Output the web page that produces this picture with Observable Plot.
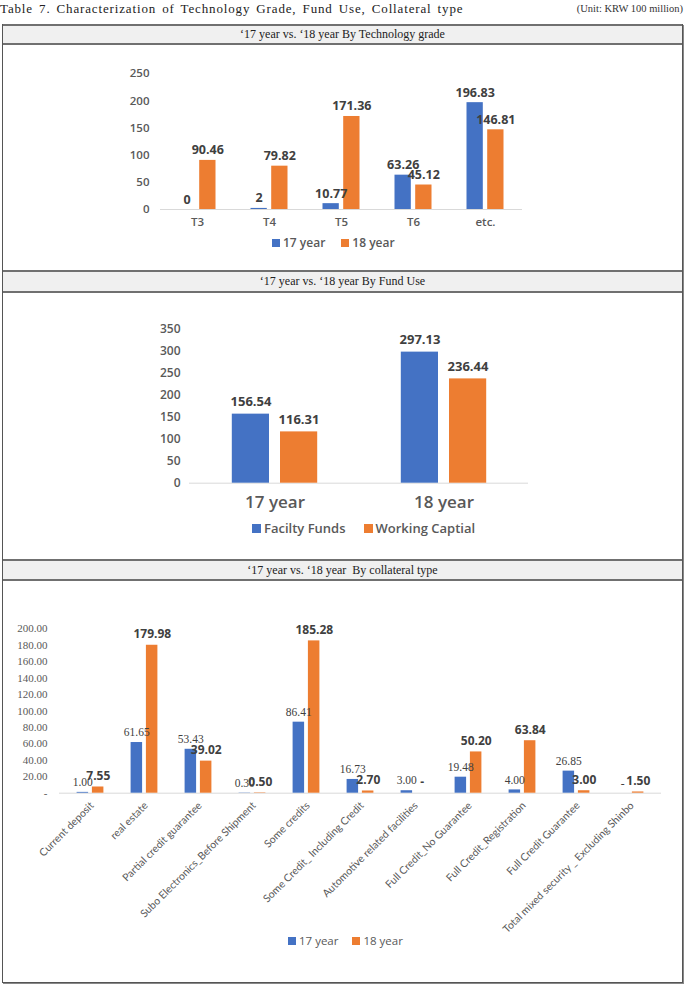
<!DOCTYPE html>
<html>
<head>
<meta charset="utf-8">
<script src="https://cdn.jsdelivr.net/npm/d3@7"></script>
<script src="https://cdn.jsdelivr.net/npm/@observablehq/plot@0.6"></script>
<style>
  html, body { margin: 0; padding: 0; background: #fff; }
  #page { position: relative; width: 685px; height: 985px; overflow: hidden; }
  .abs { position: absolute; }
  .title { left: 0; top: 1px; font-family: "Liberation Serif", serif; font-size: 13px; letter-spacing: 0.85px; word-spacing: 2px; color: #222; white-space: nowrap; }
  .unit { right: 2px; top: 3px; font-family: "Liberation Serif", serif; font-size: 10.5px; color: #333; white-space: nowrap; }
  .box { left: 2px; top: 24px; width: 679px; height: 957px; border: 1.5px solid #555; box-shadow: 1px 1px 0 #888; }
  .hdr { left: 3px; width: 679px; background: #f0f0f0; border-top: 2px solid #707070; border-bottom: 2px solid #707070;
         font-family: "Liberation Serif", serif; font-size: 12px; color: #222; text-align: center; box-sizing: border-box; }
  .legend { display: flex; align-items: center; font-family: "Open Sans", sans-serif; color: #595959; white-space: nowrap; }
  .sw { display: inline-block; width: 8px; height: 8px; margin-right: 3px; }
  svg { position: absolute; left: 0; }
</style>
</head>
<body>
<div id="page">
  <div class="abs title">Table 7. Characterization of Technology Grade, Fund Use, Collateral type</div>
  <div class="abs unit">(Unit: KRW 100 million)</div>
  <div class="abs box"></div>
  <div class="abs hdr" style="top:24px;height:21px;line-height:17px;">‘17 year vs. ‘18 year By Technology grade</div>
  <div class="abs hdr" style="top:270px;height:23px;line-height:19px;">‘17 year vs. ‘18 year By Fund Use</div>
  <div class="abs hdr" style="top:559px;height:22px;line-height:18px;">‘17 year vs. ‘18 year &nbsp;By collateral type</div>

  <div class="abs legend" style="left:272px;top:234px;font-size:12px;font-weight:600;">
    <span class="sw" style="background:#4472C4"></span><span>17 year</span>
    <span class="sw" style="background:#ED7D31;margin-left:16px"></span><span>18 year</span>
  </div>
  <div class="abs legend" style="left:252px;top:519px;font-size:13px;font-weight:600;">
    <span class="sw" style="background:#4472C4;width:9px;height:9px"></span><span>Facilty Funds</span>
    <span class="sw" style="background:#ED7D31;width:9px;height:9px;margin-left:18px"></span><span>Working Captial</span>
  </div>
  <div class="abs legend" style="left:288px;top:933px;font-size:11.5px;">
    <span class="sw" style="background:#4472C4"></span><span>17 year</span>
    <span class="sw" style="background:#ED7D31;margin-left:14px"></span><span>18 year</span>
  </div>
</div>
<script>
// ---------- data ----------
const techCats = ["T3", "T4", "T5", "T6", "etc."];
const tech17 = [0, 2, 10.77, 63.26, 196.83];
const tech18 = [90.46, 79.82, 171.36, 45.12, 146.81];
const techTicks = [0, 50, 100, 150, 200, 250];

const fundGroups = ["17 year", "18 year"];
const fundFacility = [156.54, 297.13];
const fundWorking = [116.31, 236.44];
const fundTicks = [0, 50, 100, 150, 200, 250, 300, 350];

const collCats = [
  "Current deposit",
  "real estate",
  "Partial credit guarantee",
  "Subo Electronics_Before Shipment",
  "Some credits",
  "Some Credit_ Including Credit",
  "Automotive related facilities",
  "Full Credit_No Guarantee",
  "Full Credit_Registration",
  "Full Credit Guarantee",
  "Total mixed security _ Excluding Shinbo"
];
const coll17 = [1.00, 61.65, 53.43, 0.30, 86.41, 16.73, 3.00, 19.48, 4.00, 26.85, 0];
const coll18 = [7.55, 179.98, 39.02, 0.50, 185.28, 2.70, 0, 50.20, 63.84, 3.00, 1.50];
const collTicks = [0, 20, 40, 60, 80, 100, 120, 140, 160, 180, 200];

const BLUE = "#4472C4", ORANGE = "#ED7D31";
const SANS = "'Open Sans', sans-serif";
const page = document.getElementById("page");

// ---------- chart 1 ----------
const techRows = techCats.map((c, i) => ({cat: c, a: tech17[i], b: tech18[i]}));
const c1 = Plot.plot({
  width: 685, height: 224,
  marginLeft: 160, marginRight: 163, marginTop: 27.3, marginBottom: 61,
  style: {fontFamily: SANS, background: "transparent", overflow: "visible"},
  x: {type: "band", domain: techCats, padding: 0, axis: null},
  y: {domain: [0, 250], axis: null},
  marks: [
    Plot.ruleY([0], {stroke: "#d9d9d9", strokeWidth: 1}),
    Plot.barY(techRows, {x: "cat", y: "a", fill: BLUE, insetLeft: 17.5, insetRight: 38.2}),
    Plot.barY(techRows, {x: "cat", y: "b", fill: ORANGE, insetLeft: 38.2, insetRight: 17.5}),
    Plot.text(techRows, {x: "cat", y: "a", text: d => String(d.a), dx: -10.3, dy: -10, fontSize: 12.5, fontWeight: "bold", fill: "#404040"}),
    Plot.text(techRows, {x: "cat", y: "b", text: d => String(d.b), dx: 10.3, dy: -10, fontSize: 12.5, fontWeight: "bold", fill: "#404040"}),
    Plot.axisY({ticks: techTicks, tickSize: 0, tickPadding: 11, fontSize: 11.5, fontWeight: 600, fill: "#595959", label: null}),
    Plot.axisX({tickSize: 0, tickPadding: 8.5, fontSize: 11.5, fontWeight: 600, fill: "#595959", label: null})
  ]
});
c1.style.top = "46px";
page.appendChild(c1);

// ---------- chart 2 ----------
const fundRows = fundGroups.map((g, i) => ({g, a: fundFacility[i], b: fundWorking[i]}));
const c2 = Plot.plot({
  width: 685, height: 260,
  marginLeft: 189, marginRight: 157, marginTop: 35.3, marginBottom: 70.3,
  style: {fontFamily: SANS, background: "transparent", overflow: "visible"},
  x: {type: "band", domain: fundGroups, padding: 0, axis: null},
  y: {domain: [0, 350], axis: null},
  marks: [
    Plot.ruleY([0], {stroke: "#d9d9d9", strokeWidth: 1}),
    Plot.barY(fundRows, {x: "g", y: "a", fill: BLUE, insetLeft: 41.8, insetRight: 90}),
    Plot.barY(fundRows, {x: "g", y: "b", fill: ORANGE, insetLeft: 90, insetRight: 41.8}),
    Plot.text(fundRows, {x: "g", y: "a", text: d => d.a.toFixed(2), dx: -24, dy: -12.5, fontSize: 13, fontWeight: "bold", fill: "#404040"}),
    Plot.text(fundRows, {x: "g", y: "b", text: d => d.b.toFixed(2), dx: 24, dy: -12.5, fontSize: 13, fontWeight: "bold", fill: "#404040"}),
    Plot.axisY({ticks: fundTicks, tickSize: 0, tickPadding: 9, fontSize: 12, fontWeight: 600, fill: "#595959", label: null}),
    Plot.axisX({tickSize: 0, tickPadding: 13, fontSize: 17, fontWeight: 600, fill: "#595959", label: null})
  ]
});
c2.style.top = "293px";
page.appendChild(c2);

// ---------- chart 3 ----------
const collRows = collCats.map((c, i) => ({cat: c, a: coll17[i], b: coll18[i]}));
const fmt3 = v => v === 0 ? "-" : v.toFixed(2);
const c3 = Plot.plot({
  width: 685, height: 400,
  marginLeft: 59, marginRight: 24, marginTop: 47.3, marginBottom: 188.3,
  style: {fontFamily: SANS, background: "transparent", overflow: "visible"},
  x: {type: "band", domain: collCats, padding: 0, axis: null},
  y: {domain: [0, 200], axis: null},
  marks: [
    Plot.ruleY([0], {stroke: "#d9d9d9", strokeWidth: 1}),
    Plot.barY(collRows, {x: "cat", y: "a", fill: BLUE, insetLeft: 13.6, insetRight: 28.9}),
    Plot.barY(collRows, {x: "cat", y: "b", fill: ORANGE, insetLeft: 28.9, insetRight: 13.6}),
    Plot.text(collRows, {x: "cat", y: "a", text: d => fmt3(d.a), dx: -7.8, dy: -10, fontSize: 11.5, fontFamily: "'Liberation Serif', serif", fill: "#404040"}),
    Plot.text(collRows, {x: "cat", y: "b", text: d => fmt3(d.b), dx: 7.8, dy: -11, fontSize: 12, fontWeight: "bold", fill: "#404040"}),
    Plot.axisY({ticks: collTicks, tickFormat: fmt3, tickSize: 0, tickPadding: 12, fontSize: 11, fontFamily: "'Liberation Serif', serif", fill: "#595959", label: null}),
    Plot.text(collCats, {x: d => d, frameAnchor: "bottom", text: d => d, rotate: -45, textAnchor: "end", dx: 4, dy: 13, fontSize: 10.5, fontFamily: "Lato, sans-serif", fill: "#595959"})
  ]
});
c3.style.top = "581px";
page.appendChild(c3);
</script>
</body>
</html>
